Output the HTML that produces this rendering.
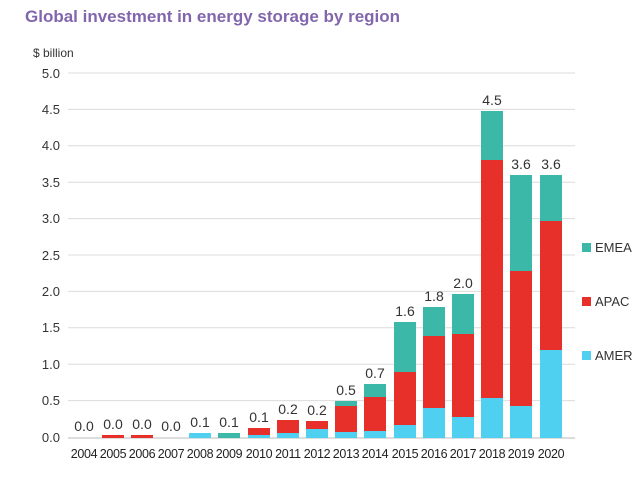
<!DOCTYPE html><html><head><style>body{margin:0;background:#fff}svg{font-family:"Liberation Sans",sans-serif}</style></head><body>
<svg width="640" height="477" xmlns="http://www.w3.org/2000/svg">
<text x="25" y="22" font-size="17" font-weight="bold" fill="#8266ad">Global investment in energy storage by region</text>
<text x="33" y="57" font-size="12" fill="#333">$ billion</text>
<g stroke="#dcdcdc" stroke-width="1">
<line x1="68" x2="575" y1="73" y2="73"/><line x1="68" x2="575" y1="109.4" y2="109.4"/><line x1="68" x2="575" y1="145.8" y2="145.8"/><line x1="68" x2="575" y1="182.2" y2="182.2"/><line x1="68" x2="575" y1="218.6" y2="218.6"/><line x1="68" x2="575" y1="255" y2="255"/><line x1="68" x2="575" y1="291.4" y2="291.4"/><line x1="68" x2="575" y1="327.8" y2="327.8"/><line x1="68" x2="575" y1="364.2" y2="364.2"/><line x1="68" x2="575" y1="400.6" y2="400.6"/></g>
<line x1="68" x2="575" y1="438" y2="438" stroke="#bbb"/>
<g font-size="13" fill="#333" text-anchor="end">
<text x="60" y="78">5.0</text><text x="60" y="114">4.5</text><text x="60" y="150">4.0</text><text x="60" y="187">3.5</text><text x="60" y="223">3.0</text><text x="60" y="260">2.5</text><text x="60" y="296">2.0</text><text x="60" y="332">1.5</text><text x="60" y="369">1.0</text><text x="60" y="405">0.5</text><text x="60" y="442">0.0</text></g>
<g>
<rect x="102" y="435" width="22" height="3" fill="#e8302a"/>
<rect x="131" y="435" width="22" height="3" fill="#e8302a"/>
<rect x="189" y="433" width="22" height="5" fill="#4fd0f0"/>
<rect x="218" y="433" width="22" height="5" fill="#3cb8a8"/>
<rect x="248" y="428" width="22" height="7" fill="#e8302a"/><rect x="248" y="435" width="22" height="3" fill="#4fd0f0"/>
<rect x="277" y="420" width="22" height="13" fill="#e8302a"/><rect x="277" y="433" width="22" height="5" fill="#4fd0f0"/>
<rect x="306" y="421" width="22" height="8" fill="#e8302a"/><rect x="306" y="429" width="22" height="9" fill="#4fd0f0"/>
<rect x="335" y="401" width="22" height="5" fill="#3cb8a8"/><rect x="335" y="406" width="22" height="26" fill="#e8302a"/><rect x="335" y="432" width="22" height="6" fill="#4fd0f0"/>
<rect x="364" y="384" width="22" height="13" fill="#3cb8a8"/><rect x="364" y="397" width="22" height="34" fill="#e8302a"/><rect x="364" y="431" width="22" height="7" fill="#4fd0f0"/>
<rect x="394" y="322" width="22" height="50" fill="#3cb8a8"/><rect x="394" y="372" width="22" height="53" fill="#e8302a"/><rect x="394" y="425" width="22" height="13" fill="#4fd0f0"/>
<rect x="423" y="307" width="22" height="29" fill="#3cb8a8"/><rect x="423" y="336" width="22" height="72" fill="#e8302a"/><rect x="423" y="408" width="22" height="30" fill="#4fd0f0"/>
<rect x="452" y="294" width="22" height="40" fill="#3cb8a8"/><rect x="452" y="334" width="22" height="83" fill="#e8302a"/><rect x="452" y="417" width="22" height="21" fill="#4fd0f0"/>
<rect x="481" y="111" width="22" height="49" fill="#3cb8a8"/><rect x="481" y="160" width="22" height="238" fill="#e8302a"/><rect x="481" y="398" width="22" height="40" fill="#4fd0f0"/>
<rect x="510" y="175" width="22" height="96" fill="#3cb8a8"/><rect x="510" y="271" width="22" height="135" fill="#e8302a"/><rect x="510" y="406" width="22" height="32" fill="#4fd0f0"/>
<rect x="540" y="175" width="22" height="46" fill="#3cb8a8"/><rect x="540" y="221" width="22" height="129" fill="#e8302a"/><rect x="540" y="350" width="22" height="88" fill="#4fd0f0"/>
</g>
<g font-size="14" fill="#333" text-anchor="middle">
<text x="84" y="431">0.0</text><text x="113" y="429">0.0</text><text x="142" y="429">0.0</text><text x="171" y="431">0.0</text><text x="200" y="427">0.1</text><text x="229" y="427">0.1</text><text x="259" y="422">0.1</text><text x="288" y="414">0.2</text><text x="317" y="415">0.2</text><text x="346" y="395">0.5</text><text x="375" y="378">0.7</text><text x="405" y="316">1.6</text><text x="434" y="301">1.8</text><text x="463" y="288">2.0</text><text x="492" y="105">4.5</text><text x="521" y="169">3.6</text><text x="551" y="169">3.6</text></g>
<g font-size="12.5" fill="#222" text-anchor="middle" letter-spacing="-0.3">
<text x="84" y="458">2004</text><text x="113" y="458">2005</text><text x="142" y="458">2006</text><text x="171" y="458">2007</text><text x="200" y="458">2008</text><text x="229" y="458">2009</text><text x="259" y="458">2010</text><text x="288" y="458">2011</text><text x="317" y="458">2012</text><text x="346" y="458">2013</text><text x="375" y="458">2014</text><text x="405" y="458">2015</text><text x="434" y="458">2016</text><text x="463" y="458">2017</text><text x="492" y="458">2018</text><text x="521" y="458">2019</text><text x="551" y="458">2020</text></g>
<rect x="582" y="243" width="9" height="9" fill="#3cb8a8"/><text x="595" y="252" font-size="13" fill="#333">EMEA</text>
<rect x="582" y="297" width="9" height="9" fill="#e8302a"/><text x="595" y="306" font-size="13" fill="#333">APAC</text>
<rect x="582" y="351" width="9" height="9" fill="#4fd0f0"/><text x="595" y="360" font-size="13" fill="#333">AMER</text>
</svg></body></html>
